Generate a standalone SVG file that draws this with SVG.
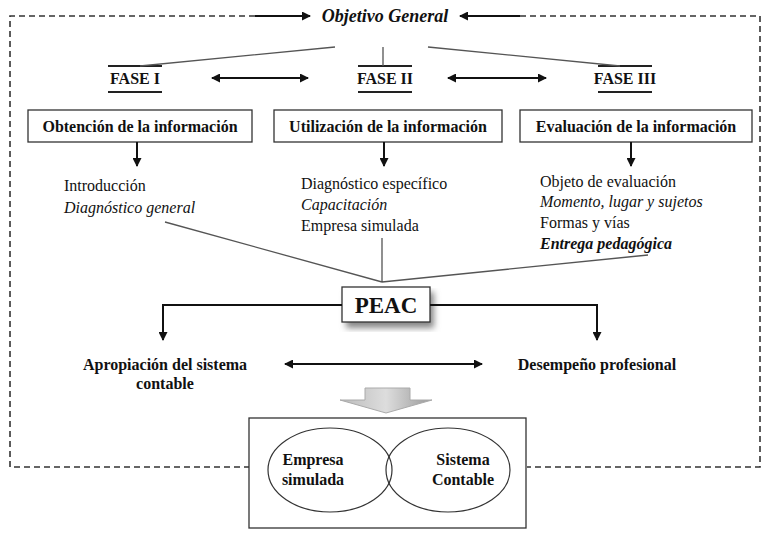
<svg xmlns="http://www.w3.org/2000/svg" width="770" height="537" viewBox="0 0 770 537">
<style>
text{font-family:"Liberation Serif","Times New Roman",serif;font-size:16px;fill:#111}
.b{font-weight:bold}.i{font-style:italic}
.big{font-size:18px}.pe{font-size:23px}
.ln{stroke:#555;stroke-width:1.3;fill:none}
.ar{stroke:#111;stroke-width:2;fill:none}
.bx{fill:#fff;stroke:#333;stroke-width:1.3}
</style>
<defs>
<marker id="a" markerWidth="9" markerHeight="9" refX="8" refY="4.5" orient="auto-start-reverse" markerUnits="userSpaceOnUse"><path d="M0,0 L9,4.5 L0,9 Z" fill="#111"/></marker>
<filter id="sh"><feGaussianBlur stdDeviation="3"/></filter>
<linearGradient id="g" x1="0" x2="1"><stop offset="0" stop-color="#bbb"/><stop offset="0.5" stop-color="#ddd"/><stop offset="1" stop-color="#999"/></linearGradient>
</defs>
<g id="frame"><path d="M250,467 H10 V16 H255 M520,16 H760 V467 H527" fill="none" stroke="#333" stroke-width="1.6" stroke-dasharray="6,4"/></g>
<g id="objetivo"><text class="b i big" x="385" y="22" text-anchor="middle">Objetivo General</text></g>
<g id="fases">
<path d="M108,66 H162 M108,92 H162 M358,66 H412 M358,92 H412 M598,66 H652 M598,92 H652" stroke="#222" stroke-width="2"/>
<text class="b" x="135" y="84" text-anchor="middle">FASE I</text>
<text class="b" x="385" y="84" text-anchor="middle">FASE II</text>
<text class="b" x="625" y="84" text-anchor="middle">FASE III</text>
</g>
<g id="boxes">
<rect class="bx" x="28" y="110" width="224" height="32"/><text class="b" x="140" y="132" text-anchor="middle">Obtención de la información</text>
<rect class="bx" x="274" y="110" width="228" height="32"/><text class="b" x="388" y="132" text-anchor="middle">Utilización de la información</text>
<rect class="bx" x="520" y="110" width="232" height="32"/><text class="b" x="636" y="132" text-anchor="middle">Evaluación de la información</text>
</g>
<g id="lists">
<text x="64" y="191">Introducción</text><text class="i" x="64" y="213">Diagnóstico general</text>
<text x="301" y="189">Diagnóstico específico</text><text class="i" x="301" y="210">Capacitación</text><text x="301" y="231">Empresa simulada</text>
<text x="540" y="187">Objeto de evaluación</text><text class="i" x="540" y="207">Momento, lugar y sujetos</text><text x="540" y="228">Formas y vías</text><text class="b i" x="540" y="249">Entrega pedagógica</text>
</g>
<g id="peac">
<rect x="346" y="292" width="88" height="36" fill="#888" filter="url(#sh)"/>
<rect class="bx" x="342" y="287" width="88" height="35"/>
<text class="b pe" x="386" y="313" text-anchor="middle">PEAC</text>
</g>
<g id="results">
<text class="b" x="165" y="370" text-anchor="middle">Apropiación del sistema</text>
<text class="b" x="165" y="389" text-anchor="middle">contable</text>
<text class="b" x="597" y="370" text-anchor="middle">Desempeño profesional</text>
</g>
<g id="bigarrow"><path d="M365,388 H410 V400 H432 L386,413 L340,400 H365 Z" fill="url(#g)" stroke="#aaa"/></g>
<g id="venn">
<rect class="bx" x="249" y="418" width="277" height="110"/>
<ellipse cx="330" cy="470" rx="62" ry="42" fill="none" stroke="#333" stroke-width="1.2"/>
<ellipse cx="448" cy="470" rx="62" ry="42" fill="none" stroke="#333" stroke-width="1.2"/>
<text class="b" x="313" y="465" text-anchor="middle">Empresa</text><text class="b" x="313" y="485" text-anchor="middle">simulada</text>
<text class="b" x="463" y="465" text-anchor="middle">Sistema</text><text class="b" x="463" y="485" text-anchor="middle">Contable</text>
</g>
<g id="connectors">
<path class="ar" d="M255,16 H310" marker-end="url(#a)"/>
<path class="ar" d="M520,16 H460" marker-end="url(#a)"/>
<path class="ln" d="M335,47 L140,66 M383,47 V66 M428,47 L620,66"/>
<path class="ar" d="M212,78 H308" marker-start="url(#a)" marker-end="url(#a)"/>
<path class="ar" d="M448,78 H546" marker-start="url(#a)" marker-end="url(#a)"/>
<path class="ar" d="M137,142 V166" marker-end="url(#a)"/>
<path class="ar" d="M384,142 V166" marker-end="url(#a)"/>
<path class="ar" d="M631,142 V166" marker-end="url(#a)"/>
<path class="ln" d="M165,222 L382,282 M382,238 V282 M648,255 L382,282"/>
<path class="ar" d="M342,305 H163 V340" marker-end="url(#a)"/>
<path class="ar" d="M430,305 H597 V340" marker-end="url(#a)"/>
<path class="ar" d="M285,364 H482" marker-start="url(#a)" marker-end="url(#a)"/>
</g>
</svg>
